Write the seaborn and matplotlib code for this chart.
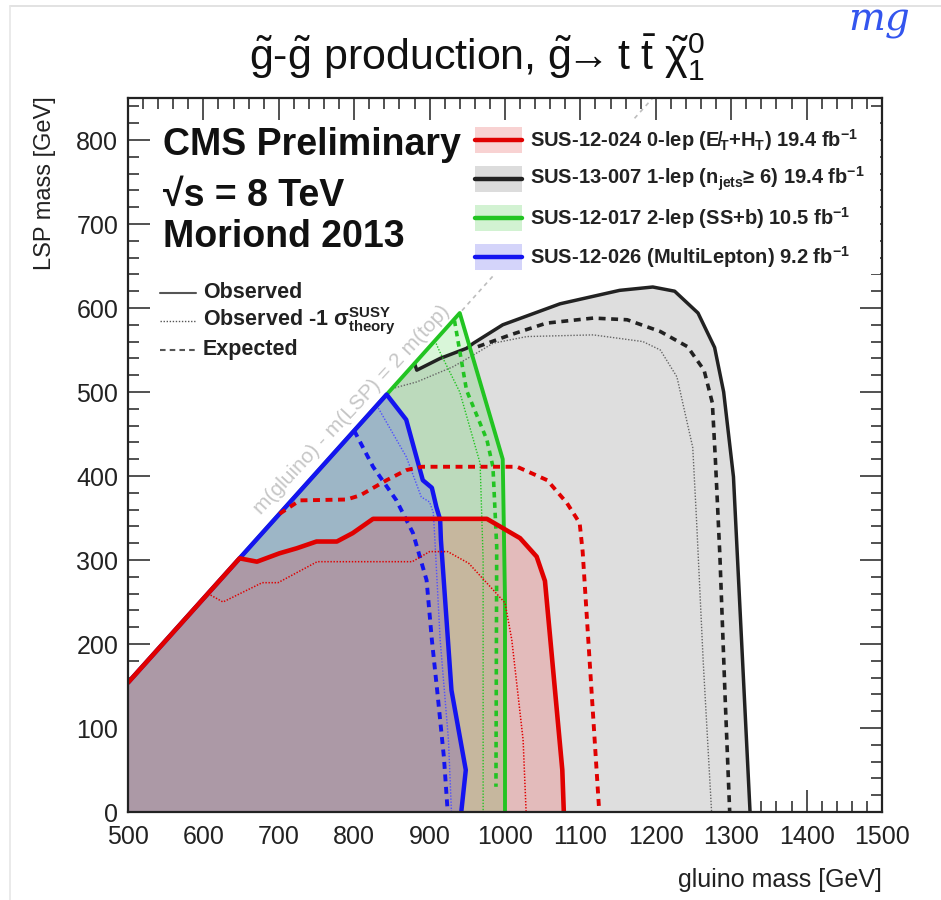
import numpy as np
import pandas as pd
import matplotlib
matplotlib.use("Agg")
import matplotlib.pyplot as plt
import seaborn as sns
from matplotlib.patches import Rectangle, Polygon
from matplotlib.lines import Line2D
from matplotlib.ticker import MultipleLocator

# ---------------- data (GeV) ----------------
diag_gluino = [500, 1196]
diag_lsp = [154, 850]

red_obs_x = [500, 648, 671, 701, 724, 750, 777, 798, 825, 976, 1020, 1042, 1053, 1076, 1078]
red_obs_y = [154, 302, 298, 308, 314, 322, 322, 332, 349, 349, 326, 304, 275, 50, 0]
red_m1_x = [606, 626, 678, 699, 751, 877, 900, 924, 952, 1000, 1009, 1024, 1028]
red_m1_y = [260, 250, 273, 273, 298, 298, 310, 310, 296, 249, 205, 86, 0]
red_exp_x = [701, 728, 790, 808, 843, 869, 890, 1016, 1056, 1082, 1099, 1103, 1125]
red_exp_y = [355, 371, 372, 377, 395, 407, 411, 411, 395, 368, 344, 310, 0]

blue_obs_x = [500, 843, 869, 891, 903, 909, 914, 915, 929, 948, 942]
blue_obs_y = [154, 497, 467, 395, 386, 363, 348, 324, 145, 50, 0]
blue_m1_x = [830, 869, 889, 900, 905, 907, 914, 925, 929]
blue_m1_y = [484, 423, 375, 369, 356, 324, 205, 86, 0]
blue_exp_x = [800, 825, 856, 878, 896, 903, 910, 919, 924]
blue_exp_y = [454, 411, 371, 332, 276, 205, 145, 65, 0]

green_obs_x = [500, 940, 997, 1000, 1000]
green_obs_y = [154, 594, 420, 252, 0]
green_m1_x = [907, 915, 940, 967, 971, 971]
green_m1_y = [561, 545, 500, 415, 300, 0]
green_exp_x = [933, 949, 976, 984, 989, 988]
green_exp_y = [585, 502, 443, 411, 316, 30]

black_obs_x = [880, 883, 914, 949, 958, 997, 1073, 1152, 1196, 1225, 1256, 1278, 1290, 1303, 1325]
black_obs_y = [534, 526, 540, 552, 558, 580, 605, 621, 625, 620, 594, 553, 500, 399, 0]
black_m1_x = [850, 883, 931, 958, 984, 1029, 1117, 1183, 1206, 1228, 1249, 1254, 1263, 1274]
black_m1_y = [504, 512, 530, 544, 558, 566, 568, 560, 550, 518, 434, 348, 177, 0]
black_exp_x = [964, 1007, 1055, 1117, 1162, 1206, 1242, 1264, 1275, 1279, 1285, 1292, 1298]
black_exp_y = [554, 568, 582, 588, 586, 572, 554, 526, 487, 420, 305, 135, 0]

legend_labels = [
    "SUS-12-024 0-lep (E\u0338$_{T}$+H$_{T}$) 19.4 fb$^{-1}$",
    "SUS-13-007 1-lep (n$_{jets}$\u2265 6) 19.4 fb$^{-1}$",
    "SUS-12-017 2-lep (SS+b) 10.5 fb$^{-1}$",
    "SUS-12-026 (MultiLepton) 9.2 fb$^{-1}$",
]
style_labels = ["Observed", "Observed -1 $\\sigma^{SUSY}_{theory}$", "Expected"]

# ---------------- style ----------------
sns.set_theme(style="white")
plt.rcParams["font.family"] = ["Liberation Sans", "DejaVu Sans"]
plt.rcParams["mathtext.fontset"] = "custom"
plt.rcParams["mathtext.rm"] = "Liberation Sans"
plt.rcParams["mathtext.it"] = "Liberation Sans:italic"
plt.rcParams["mathtext.bf"] = "Liberation Sans:bold"
plt.rcParams["mathtext.default"] = "regular"
plt.rcParams["lines.scale_dashes"] = False

RED, BLUE, GREEN, BLACK = "#e00000", "#1414f0", "#22c422", "#222222"

W, H = 941, 900
fig = plt.figure(figsize=(W / 100, H / 100), dpi=100)
AX_L, AX_R, AX_T, AX_B = 128, 882, 98, 812
ax = fig.add_axes([AX_L / W, (H - AX_B) / H, (AX_R - AX_L) / W, (AX_B - AX_T) / H])
ax.set_xlim(500, 1500)
ax.set_ylim(0, 850)


def pa(px, py):
    return ((px - AX_L) / (AX_R - AX_L), (AX_B - py) / (AX_B - AX_T))


# fills
def fill(xs, ys, color, alpha, z):
    pts = list(zip(xs, ys)) + [(xs[-1], 0), (500, 0)]
    ax.add_patch(Polygon(pts, closed=True, facecolor=color, alpha=alpha, edgecolor="none", zorder=z))


fill([500, 500] + black_obs_x, [0, 154] + black_obs_y, "#dedede", 1.0, 1)
fill(green_obs_x, green_obs_y, "#00c800", 0.15, 2)
fill(blue_obs_x, blue_obs_y, "#0000ff", 0.16, 3)
fill(red_obs_x, red_obs_y, "#ff0000", 0.155, 4)


def curve(xs, ys, color, lw, dashes=None, z=5):
    df = pd.DataFrame({"m_gluino": xs, "m_lsp": ys})
    sns.lineplot(data=df, x="m_gluino", y="m_lsp", sort=False, estimator=None,
                 color=color, lw=lw, ax=ax, zorder=z)
    ln = ax.lines[-1]
    ln.set_solid_joinstyle("round")
    if dashes is not None:
        ln.set_dashes(dashes)
    return ln


# kinematic diagonal
curve(diag_gluino, diag_lsp, "#bdbdbd", 1.2, dashes=(3, 3), z=1.5)

# black (1-lep)
curve(black_m1_x, black_m1_y, "#666666", 1.0, dashes=(1, 1.2), z=6)
curve(black_exp_x, black_exp_y, BLACK, 2.6, dashes=(5, 4), z=6)
curve(black_obs_x, black_obs_y, BLACK, 2.5, z=6)
# green
curve(green_m1_x, green_m1_y, GREEN, 1.0, dashes=(1, 1.2), z=7)
curve(green_exp_x, green_exp_y, GREEN, 2.6, dashes=(4, 3.5), z=7)
curve(green_obs_x, green_obs_y, GREEN, 2.8, z=7)
# blue
curve(blue_m1_x, blue_m1_y, "#5050ff", 1.0, dashes=(1, 1.2), z=8)
curve(blue_exp_x, blue_exp_y, BLUE, 2.8, dashes=(5, 4), z=8)
curve(blue_obs_x, blue_obs_y, BLUE, 3.2, z=8)
# red
curve(red_m1_x, red_m1_y, RED, 1.1, dashes=(1, 1.2), z=9)
curve(red_exp_x, red_exp_y, RED, 2.8, dashes=(5, 4), z=9)
curve(red_obs_x, red_obs_y, RED, 3.3, z=9)

ax.set_xlabel("")
ax.set_ylabel("")

# axes / ticks (ROOT style)
ax.xaxis.set_major_locator(MultipleLocator(100))
ax.xaxis.set_minor_locator(MultipleLocator(20))
ax.yaxis.set_major_locator(MultipleLocator(100))
ax.yaxis.set_minor_locator(MultipleLocator(20))
ax.tick_params(which="both", direction="in", top=True, right=True, bottom=True, left=True,
               colors="#222222", width=1.1)
ax.tick_params(which="major", length=16, labelsize=18, labelcolor="#222222")
ax.tick_params(which="minor", length=8)
ax.tick_params(axis="x", which="major", pad=9)
ax.tick_params(axis="y", which="major", pad=7)
for sp in ax.spines.values():
    sp.set_color("#222222")
    sp.set_linewidth(1.6)
    sp.set_visible(True)
    sp.set_zorder(20)

# diagonal label
ax.text(797, 479, "m(gluino) - m(LSP) = 2 m(top)", rotation=47, rotation_mode="anchor",
        ha="center", va="center", fontsize=15, color="#c6c6c6", zorder=10)

# left text block
for py, s in [(145, "CMS Preliminary"), (196, "\u221as = 8 TeV"), (237, "Moriond 2013")]:
    ax.text(*pa(163, py), s, transform=ax.transAxes, fontsize=27,
            fontweight="bold", ha="left", va="center", color="#111111", zorder=12)

# style legend
style_rows = [293, 321, 350]
style_dashes = [None, (1, 1.2), (4, 3)]
style_lw = [1.5, 1.0, 1.5]
for r, lab, d, lw in zip(style_rows, style_labels, style_dashes, style_lw):
    x0, y0 = pa(160, r)
    x1, _ = pa(196, r)
    ln = Line2D([x0, x1], [y0, y0], transform=ax.transAxes, color="#555555", lw=lw, zorder=12)
    if d is not None:
        ln.set_dashes(d)
    ax.add_line(ln)
    ax.text(*pa(203, r), lab, transform=ax.transAxes, fontsize=15.5, fontweight="bold",
            ha="left", va="center", color="#222222", zorder=12)

# analysis legend (white box)
bx0, by0 = pa(468, 274)
bx1, by1 = pa(880, 120)
ax.add_patch(Rectangle((bx0, by0), bx1 - bx0, by1 - by0, transform=ax.transAxes,
                       facecolor="white", edgecolor="none", zorder=11))
leg_rows = [140, 179, 218, 257]
leg_fill = ["#f8d2d2", "#dcdcdc", "#d2f2d2", "#d4d4fa"]
leg_line = [RED, BLACK, GREEN, BLUE]
for r, lab, fc, lc in zip(leg_rows, legend_labels, leg_fill, leg_line):
    px0, py0 = pa(475, r + 13)
    px1, py1 = pa(522, r - 13)
    ax.add_patch(Rectangle((px0, py0), px1 - px0, py1 - py0, transform=ax.transAxes,
                           facecolor=fc, edgecolor="none", zorder=12))
    _, yc = pa(0, r)
    ax.add_line(Line2D([px0, px1], [yc, yc], transform=ax.transAxes, color=lc, lw=3.2, zorder=13))
    ax.text(*pa(530, r), lab, transform=ax.transAxes, fontsize=14.5, fontweight="bold",
            ha="left", va="center", color="#222222", zorder=13)

# title
fig.text(477 / W, 1 - 57 / H,
         r"$\tilde{g}$-$\tilde{g}$ production, $\tilde{g}\!\!\rightarrow$t $\bar{t}$ $\tilde{\chi}^{0}_{1}$",
         ha="center", va="center", fontsize=31, color="#111111")

# axis titles
fig.text(AX_R / W, 1 - 880 / H, "gluino mass [GeV]", ha="right", va="center",
         fontsize=18, color="#222222")
fig.text(45 / W, 1 - 96 / H, "LSP mass [GeV]", ha="center", va="top", rotation=90,
         fontsize=17, color="#222222")

# page frame + blue annotation in the corner
fig.add_artist(Line2D([10 / W, 1.0], [1 - 6 / H, 1 - 6 / H], transform=fig.transFigure,
                      color="#dddddd", lw=1.2))
fig.add_artist(Line2D([10 / W, 10 / W], [0, 1 - 6 / H], transform=fig.transFigure,
                      color="#e6e6e6", lw=1.2))
fig.text(848 / W, 1 - 2 / H, "mg", ha="left", va="top", fontsize=28,
         family="DejaVu Serif", style="italic", color="#3355ee")

fig.savefig("out.png", dpi=100, facecolor="white")
